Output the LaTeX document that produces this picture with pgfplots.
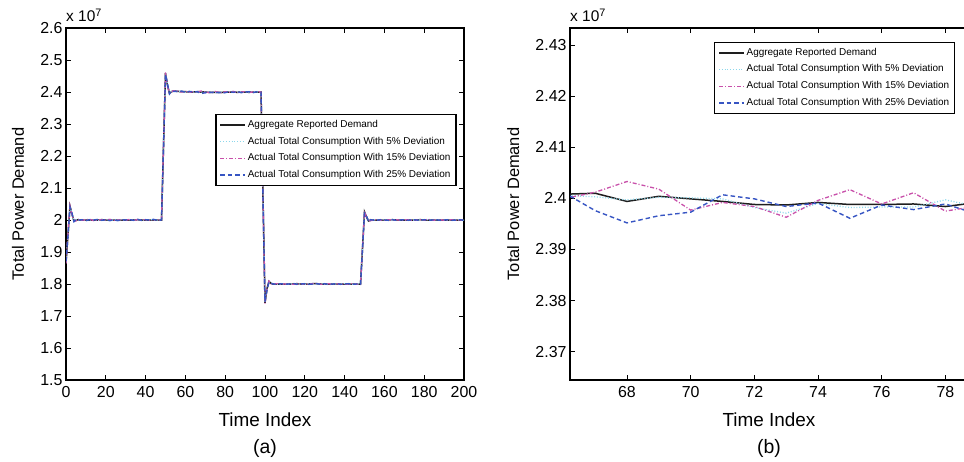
\documentclass[border=0pt]{standalone}
\usepackage{pgfplots}
\usepackage{pgfplotstable}
\pgfplotsset{compat=1.18}
\usepackage{fontspec}
\setmainfont{Liberation Sans}

\definecolor{cagg}{RGB}{30,30,30}
\definecolor{cfive}{RGB}{140,215,235}
\definecolor{cfifteen}{RGB}{200,80,170}
\definecolor{ctwentyfive}{RGB}{55,85,195}

\pgfplotstableread{
x agg d5 d15 d25
0 1.866 1.868 1.864 1.870
1 1.955 1.953 1.958 1.950
2 2.043 2.041 2.044 2.040
3 2.018 2.020 2.016 2.022
4 1.997 1.996 1.998 1.995
5 1.999 2.000 1.997 2.001
6 2.001 2.000 2.002 1.999
8 2.000 2.001 1.999 2.001
10 2.000 1.999 2.001 1.998
12 2.000 2.000 2.002 2.001
14 2.000 2.001 1.998 2.000
16 2.000 1.999 2.000 2.002
18 2.001 2.000 2.001 1.999
20 2.000 2.001 2.000 2.001
22 2.000 1.999 2.002 1.998
24 2.000 2.000 1.999 2.001
26 2.000 2.001 2.000 1.998
28 2.000 2.000 2.001 2.001
30 2.000 1.999 1.999 2.000
32 2.000 2.001 2.002 2.001
34 2.000 2.000 1.999 1.999
36 2.001 2.001 2.001 2.002
38 2.000 1.999 2.000 1.999
40 2.000 2.000 2.001 2.001
42 2.000 2.001 1.999 2.000
44 2.000 2.000 2.001 2.002
46 2.000 1.999 2.000 1.999
48 2.000 2.000 2.001 2.000
49 2.230 2.228 2.233 2.226
50 2.459 2.457 2.461 2.455
51 2.421 2.423 2.418 2.425
52 2.396 2.395 2.397 2.394
53 2.401 2.402 2.400 2.403
54 2.403 2.403 2.404 2.402
56 2.402 2.401 2.403 2.402
58 2.401 2.402 2.400 2.403
60 2.401 2.400 2.402 2.399
62 2.400 2.401 2.399 2.402
64 2.400 2.400 2.401 2.400
66 2.4008 2.4006 2.3999 2.4012
67 2.4010 2.4003 2.4012 2.3976
68 2.3994 2.3997 2.4033 2.3952
69 2.4004 2.4002 2.4018 2.3966
70 2.3999 2.4001 2.3977 2.3973
71 2.3994 2.3999 2.3992 2.4007
72 2.3988 2.3982 2.3984 2.3999
73 2.3987 2.3971 2.3963 2.3984
74 2.3992 2.3990 2.3996 2.3991
75 2.3988 2.3982 2.4017 2.3961
76 2.3988 2.3983 2.3989 2.3987
77 2.3989 2.3983 2.4011 2.3978
78 2.3984 2.3997 2.3975 2.3989
79 2.3992 2.3984 2.3985 2.3969
80 2.400 2.399 2.401 2.398
82 2.400 2.401 2.399 2.401
84 2.400 2.400 2.402 2.399
86 2.399 2.399 2.398 2.401
88 2.400 2.401 2.400 2.398
90 2.400 2.400 2.401 2.400
92 2.399 2.399 2.399 2.401
94 2.400 2.401 2.400 2.398
96 2.400 2.400 2.401 2.401
98 2.400 2.399 2.400 2.399
99 2.070 2.068 2.072 2.066
100 1.741 1.743 1.739 1.745
101 1.785 1.783 1.788 1.781
102 1.808 1.807 1.809 1.806
103 1.802 1.803 1.801 1.803
104 1.800 1.801 1.799 1.800
106 1.800 1.799 1.801 1.799
108 1.800 1.800 1.799 1.801
110 1.800 1.801 1.800 1.799
112 1.800 1.799 1.801 1.800
114 1.800 1.800 1.799 1.802
116 1.801 1.801 1.800 1.799
118 1.800 1.800 1.801 1.800
120 1.800 1.799 1.799 1.801
122 1.800 1.801 1.800 1.799
124 1.801 1.800 1.801 1.800
126 1.801 1.800 1.802 1.801
128 1.800 1.801 1.799 1.799
130 1.800 1.799 1.800 1.801
132 1.800 1.800 1.801 1.798
134 1.800 1.801 1.799 1.800
136 1.800 1.799 1.800 1.801
138 1.800 1.800 1.801 1.799
140 1.800 1.801 1.799 1.800
142 1.800 1.800 1.800 1.801
144 1.800 1.799 1.801 1.799
146 1.800 1.800 1.799 1.800
148 1.800 1.801 1.800 1.799
149 1.912 1.910 1.914 1.908
150 2.025 2.023 2.027 2.021
151 2.010 2.012 2.008 2.013
152 1.997 1.996 1.998 1.995
153 1.999 2.000 1.998 2.001
154 2.000 2.001 1.999 2.000
156 2.000 2.000 2.001 1.999
158 2.000 1.999 2.000 2.001
160 2.000 2.001 1.999 2.000
162 2.000 2.000 2.001 1.999
164 2.001 2.000 2.000 2.001
166 2.000 2.001 2.001 1.999
168 2.000 1.999 1.999 2.000
170 2.000 2.000 2.000 2.001
172 2.000 2.001 2.001 1.999
174 2.000 2.000 1.999 2.001
176 2.000 1.999 2.000 2.000
178 2.001 2.001 2.001 1.999
180 2.000 2.000 2.000 2.001
182 2.000 2.001 2.002 1.999
184 2.000 1.999 1.999 2.000
186 2.000 2.000 2.000 2.001
188 2.000 2.001 2.001 1.999
190 2.000 2.000 1.999 2.000
192 2.000 1.999 2.000 2.001
194 2.000 2.000 2.001 1.999
196 2.000 2.001 1.999 2.000
198 2.000 2.000 2.000 2.001
200 2.000 1.999 2.001 1.999
}\tabA

\pgfplotstableread{
x agg d5 d15 d25
66 2.4008 2.4006 2.3999 2.4012
67 2.4010 2.4003 2.4012 2.3976
68 2.3994 2.3997 2.4033 2.3952
69 2.4004 2.4002 2.4018 2.3966
70 2.3999 2.4001 2.3977 2.3973
71 2.3994 2.3999 2.3992 2.4007
72 2.3988 2.3982 2.3984 2.3999
73 2.3987 2.3971 2.3963 2.3984
74 2.3992 2.3990 2.3996 2.3991
75 2.3988 2.3982 2.4017 2.3961
76 2.3988 2.3983 2.3989 2.3987
77 2.3989 2.3983 2.4011 2.3978
78 2.3984 2.3997 2.3975 2.3989
79 2.3992 2.3984 2.3985 2.3969
}\tabB

\pgfplotsset{
  common/.style={
    scale only axis, width=398bp, height=352bp,
    anchor=south west,
    clip mode=individual,
    axis line style={line width=1.3bp},
    every tick/.style={black, line width=0.9bp},
    major tick length=5bp,
    tick align=inside,
    tick label style={font=\fontsize{16}{19}\selectfont},
    xticklabel style={yshift=-3bp},
    xlabel={Time Index},
    ylabel={Total Power Demand},
    xlabel style={font=\fontsize{19}{22}\selectfont, anchor=center},
    ylabel style={font=\fontsize{16.5}{19}\selectfont, anchor=center, rotate=0},
    legend cell align=left,
    legend style={draw=black, line width=1.4bp, fill=white,
      font=\fontsize{10}{11}\selectfont, row sep=0bp,
      inner xsep=3.6bp, inner ysep=2bp,
      nodes={inner xsep=1.8bp, inner ysep=3.85bp, text height=7bp, text depth=2bp},
      anchor=north west},
    legend image code/.code={\draw[##1] (0bp,0bp) -- (25bp,0bp);},
  },
  sagg/.style={color=cagg, line width=1.5bp, solid},
  sfive/.style={color=cfive, line width=1.3bp, dash pattern=on 1bp off 1.8bp},
  sfifteen/.style={color=cfifteen, line width=1.3bp, dash pattern=on 4bp off 2bp on 1bp off 2bp},
  stwentyfive/.style={color=ctwentyfive, line width=1.4bp, dash pattern=on 4.5bp off 3bp},
}

\begin{document}
\begin{tikzpicture}
\begin{axis}[common,
  at={(66bp,-380bp)},
  xmin=0, xmax=200, ymin=1.5, ymax=2.6,
  xtick={0,20,...,200},
  xticklabels={0,20,40,60,80,100,120,140,160,180,200},
  ytick={1.5,1.6,1.7,1.8,1.9,2.0,2.1,2.2,2.3,2.4,2.5,2.6},
  yticklabels={1.5,1.6,1.7,1.8,1.9,2,2.1,2.2,2.3,2.4,2.5,2.6},
  xlabel style={at={(axis description cs:0.5,-0.1117)}},
  ylabel style={at={(axis description cs:-0.1206,0.5)}},
  legend style={at={(0.375,0.7557)}},
]
\addplot[sagg] table[x=x,y=agg] {\tabA};
\addlegendentry{Aggregate Reported Demand}
\addplot[sfive] table[x=x,y=d5] {\tabA};
\addlegendentry{Actual Total Consumption With 5\% Deviation}
\addplot[sfifteen] table[x=x,y=d15] {\tabA};
\addlegendentry{Actual Total Consumption With 15\% Deviation}
\addplot[stwentyfive] table[x=x,y=d25] {\tabA};
\addlegendentry{Actual Total Consumption With 25\% Deviation}
\node[anchor=south west, inner sep=0pt, font=\fontsize{15.5}{18}\selectfont, yshift=6bp] at (axis description cs:0,1) {x 10\textsuperscript{7}};
\node[anchor=center, inner sep=0pt, font=\fontsize{19.5}{23}\selectfont] at (axis description cs:0.5,-0.1941) {(a)};
\end{axis}

\begin{axis}[common,
  at={(570bp,-380bp)},
  xmin=66.21, xmax=78.71, ymin=2.36446, ymax=2.43333,
  ytick pos=left,
  xtick={68,70,72,74,76,78},
  xticklabels={68,70,72,74,76,78},
  ytick={2.37,2.38,2.39,2.40,2.41,2.42,2.43},
  yticklabels={2.37,2.38,2.39,2.4,2.41,2.42,2.43},
  xlabel style={at={(axis description cs:0.5,-0.1117)}},
  ylabel style={at={(axis description cs:-0.1425,0.5)}},
  legend style={at={(0.3618,0.961)}},
]
\addplot[sagg] table[x=x,y=agg] {\tabB};
\addlegendentry{Aggregate Reported Demand}
\addplot[sfive] table[x=x,y=d5] {\tabB};
\addlegendentry{Actual Total Consumption With 5\% Deviation}
\addplot[sfifteen] table[x=x,y=d15] {\tabB};
\addlegendentry{Actual Total Consumption With 15\% Deviation}
\addplot[stwentyfive] table[x=x,y=d25] {\tabB};
\addlegendentry{Actual Total Consumption With 25\% Deviation}
\node[anchor=south west, inner sep=0pt, font=\fontsize{15.5}{18}\selectfont, yshift=6bp] at (axis description cs:0,1) {x 10\textsuperscript{7}};
\node[anchor=center, inner sep=0pt, font=\fontsize{19.5}{23}\selectfont] at (axis description cs:0.5,-0.1941) {(b)};
\end{axis}
\pgfresetboundingbox
\useasboundingbox (0bp,0bp) rectangle (964bp,-462bp);
\end{tikzpicture}
\end{document}
